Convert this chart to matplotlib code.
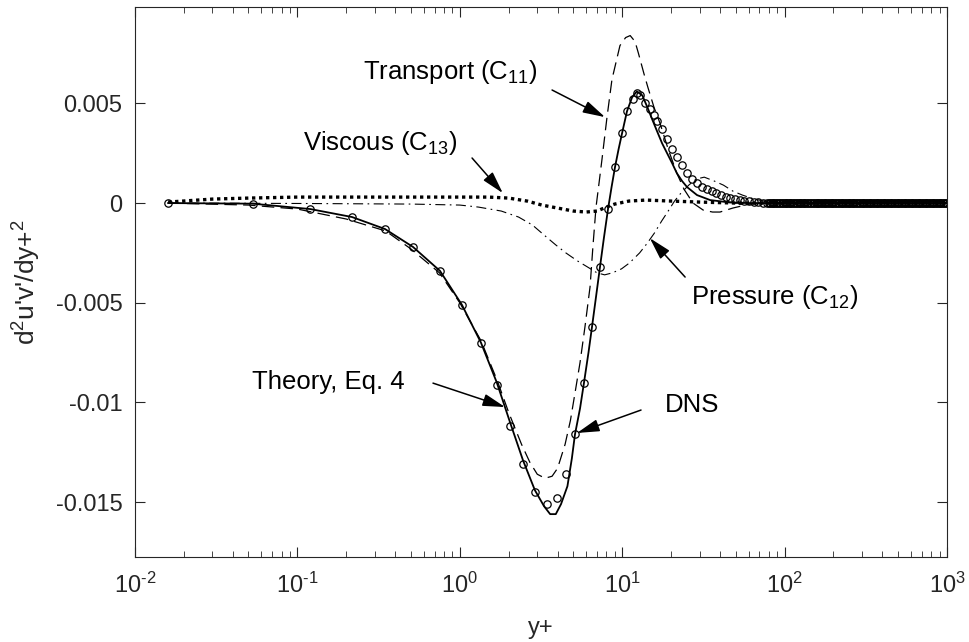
"""
Budget terms for d2u'v'/dy+2 : theory vs DNS
"""

import numpy as np
import matplotlib
matplotlib.use("Agg")
import matplotlib.pyplot as plt

# --- données ---
THEORY_X = [0.016, 0.053, 0.12, 0.217, 0.346, 0.515, 0.755, 1.03, 1.35, 1.69,
            2.04, 2.45, 2.90, 3.3, 3.6, 3.9, 4.2, 4.6, 4.9, 5.12, 5.5, 5.82,
            6.2, 6.52, 6.9, 7.3, 7.7, 8.18, 8.6, 9.03, 9.5, 9.98, 10.7, 11.5,
            12.3, 13.3, 14.3, 15.3, 16.4, 17.6, 18.9, 20.3, 21.7, 23.4, 25.1,
            28.9, 34.8, 46.0, 60.0, 100.0, 1000.0]
THEORY_Y = [0.0, -0.00003, -0.0003, -0.0007, -0.0013, -0.0022, -0.0034, -0.0051,
            -0.0070, -0.0090, -0.0110, -0.0129, -0.0144, -0.0152, -0.0156,
            -0.0156, -0.0151, -0.0142, -0.0128, -0.0116, -0.0103, -0.0090,
            -0.0075, -0.0062, -0.0047, -0.0032, -0.0018, -0.0003, 0.0008,
            0.0018, 0.0027, 0.0035, 0.0046, 0.0053, 0.0056, 0.0054, 0.0048,
            0.0042, 0.0036, 0.0030, 0.0025, 0.0020, 0.0015, 0.0011, 0.0008,
            0.0004, 0.00015, 0.00003, 0.0, 0.0, 0.0]

TRANSPORT_X = [0.016, 0.05, 0.1, 0.2, 0.35, 0.5, 0.75, 1.0, 1.35, 1.7, 2.0,
               2.4, 2.7, 3.0, 3.35, 3.7, 4.0, 4.45, 4.8, 5.2, 5.5, 5.9, 6.34,
               6.6, 6.9, 7.2, 7.51, 8.06, 8.65, 9.69, 10.5, 11.2, 12.0, 12.6,
               13.6, 14.4, 15.7, 17.1, 19.2, 21.7, 24.0, 27.3, 31.5, 36.0, 40.0,
               48.0, 61.0, 80.0, 1000.0]
TRANSPORT_Y = [0.0, -0.0001, -0.0003, -0.0008, -0.0014, -0.0023, -0.0035,
               -0.0050, -0.0069, -0.0089, -0.0105, -0.0121, -0.0130, -0.0136,
               -0.0138, -0.0137, -0.0133, -0.0121, -0.0109, -0.0092, -0.0080,
               -0.0062, -0.0042, -0.0022, -0.0002, 0.0010, 0.0022, 0.0043,
               0.0062, 0.0079, 0.0083, 0.0084, 0.0081, 0.0075, 0.0065, 0.0058,
               0.0048, 0.0040, 0.0027, 0.0015, 0.0007, 0.0, -0.00035, -0.00045,
               -0.00045, -0.00025, -0.00005, 0.0, 0.0]

PRESSURE_X = [0.016, 0.1, 0.5, 1.0, 1.3, 1.8, 2.3, 2.8, 3.3, 3.9, 4.5, 5.3,
              6.1, 7.0, 7.8, 8.7, 9.9, 11.1, 12.8, 14.3, 15.8, 17.5, 19.2,
              21.0, 23.0, 25.7, 28.5, 32.0, 37.0, 42.0, 48.0, 55.0, 65.0, 80.0,
              100.0, 1000.0]
PRESSURE_Y = [0.0, -0.00002, -0.00005, -0.0001, -0.0002, -0.0004, -0.0007,
              -0.0011, -0.0016, -0.0021, -0.0025, -0.0029, -0.0032, -0.0035,
              -0.0036, -0.0035, -0.0033, -0.0030, -0.0025, -0.0020, -0.0015,
              -0.0009, -0.0004, 0.0001, 0.0005, 0.0009, 0.0012, 0.0013, 0.0011,
              0.0009, 0.0006, 0.0004, 0.0002, 0.00005, 0.0, 0.0]

VISCOUS_X = [0.016, 0.03, 0.05, 0.1, 0.5, 1.0, 1.5, 2.0, 2.6, 3.2, 4.0, 5.0,
             6.0, 7.0, 8.0, 9.0, 11.0, 14.0, 20.0, 30.0, 50.0, 1000.0]
VISCOUS_Y = [0.00005, 0.0002, 0.00025, 0.0003, 0.0003, 0.0003, 0.0003,
             0.00025, 0.0001, -0.0001, -0.00025, -0.0004, -0.00045, -0.0004,
             -0.0002, -0.00005, 0.0001, 0.00015, 0.0001, 0.00005, 0.0, 0.0]

DNS_X = [0.016, 0.053, 0.12, 0.217, 0.346, 0.515, 0.755, 1.03, 1.35, 1.69,
         2.04, 2.45, 2.90, 3.44, 3.97, 4.51, 5.12, 5.82, 6.52, 7.30, 8.18,
         9.03, 9.98, 10.7, 11.7, 12.3, 12.9, 13.8, 14.8, 15.6, 16.4, 17.6,
         18.9, 20.3, 21.7, 23.4, 25.1, 26.9, 28.9, 31.0, 33.2, 35.5, 38.0,
         40.6, 43.4, 46.4, 49.6, 53.0, 56.6, 60.5, 64.6, 69.0, 73.7, 78.0]
DNS_Y = [0.0, -0.00003, -0.0003, -0.0007, -0.0013, -0.0022, -0.0034, -0.0051,
         -0.0070, -0.0091, -0.0112, -0.0131, -0.0145, -0.0151, -0.0148,
         -0.0136, -0.0116, -0.0090, -0.0062, -0.0032, -0.0003, 0.0018,
         0.0035, 0.0046, 0.0052, 0.0055, 0.0054, 0.0050, 0.0047, 0.0044,
         0.0041, 0.0037, 0.0032, 0.0027, 0.0023, 0.0019, 0.0015, 0.0012,
         0.0010, 0.0008, 0.0007, 0.0006, 0.0005, 0.0004, 0.0003, 0.00025,
         0.0002, 0.00015, 0.0001, 0.00008, 0.00006, 0.00004, 0.00002, 0.00001]
# points DNS au-delà de y+ ~ 80 (bande serrée) : tous à 0
DNS_X_FAR = [80, 81.6, 83.2, 84.9, 86.6, 88.3, 90, 92, 94, 96, 98, 100, 102,
             104, 106, 108, 110, 112, 114, 117, 119, 122, 124, 127, 129, 132,
             134, 137, 140, 143, 146, 149, 152, 155, 158, 161, 164, 167, 171,
             174, 178, 181, 185, 189, 192, 196, 200, 204, 208, 212, 217, 221,
             225, 230, 235, 239, 244, 249, 254, 259, 264, 269, 275, 280, 286,
             292, 298, 304, 310, 316, 322, 329, 335, 342, 349, 356, 363, 370,
             378, 385, 393, 401, 409, 417, 426, 434, 443, 452, 461, 470, 480,
             489, 499, 509, 519, 530, 540, 551, 562, 574, 585, 597, 609, 621,
             633, 646, 659, 672, 686, 699, 713, 728, 742, 757, 772, 788, 804,
             820, 836, 853, 870, 887, 905, 923, 942, 961, 980, 1000]

YTICKS = [-0.015, -0.01, -0.005, 0, 0.005]
YTICKLABELS = ["-0.015", "-0.01", "-0.005", "0", "0.005"]
XTICKS = [1e-2, 1e-1, 1e0, 1e1, 1e2, 1e3]
XTICKLABELS = ["10$^{\\text{-2}}$", "10$^{\\text{-1}}$", "10$^{0}$",
               "10$^{1}$", "10$^{2}$", "10$^{3}$"]


def main() -> None:
    """main"""
    plt.rcParams.update({
        'font.family': ['Liberation Sans', 'DejaVu Sans'],
        'font.size': 17,
        'mathtext.fontset': 'custom',
        'mathtext.rm': 'Liberation Sans',
        'mathtext.it': 'Liberation Sans',
        'mathtext.default': 'regular',
    })
    dark = '#262626'

    fig = plt.figure(figsize=(9.69, 6.42), dpi=100)
    ax = fig.add_axes([0.1393, 0.1324, 0.8380, 0.8566])

    ax.plot(THEORY_X, THEORY_Y, color='black', lw=1.3)
    ax.plot(TRANSPORT_X, TRANSPORT_Y, color='black', lw=0.9,
            dashes=(10, 5))
    ax.plot(PRESSURE_X, PRESSURE_Y, color='black', lw=0.8,
            dashes=(9, 4, 1.5, 4))
    ax.plot(VISCOUS_X, VISCOUS_Y, color='black', lw=2.4,
            dashes=(1, 1.1), dash_capstyle='butt')

    dns_x = DNS_X + DNS_X_FAR
    dns_y = DNS_Y + list(np.zeros(len(DNS_X_FAR)))
    ax.plot(dns_x, dns_y, ls='none', marker='o', ms=5.3, mfc='none',
            mec='black', mew=0.9)

    ax.set_xscale('log')
    ax.set_xlim(1e-2, 1e3)
    ax.set_ylim(-0.01775, 0.00983)
    ax.set_xticks(XTICKS)
    ax.set_xticklabels(XTICKLABELS)
    ax.set_yticks(YTICKS)
    ax.set_yticklabels(YTICKLABELS)
    ax.tick_params(which='both', direction='in', top=True, right=True,
                   colors=dark, labelsize=17)
    ax.tick_params(which='major', length=7)
    ax.tick_params(axis='y', which='major', pad=9)
    ax.tick_params(axis='x', which='major', pad=11)
    ax.tick_params(which='minor', length=4)
    for sp in ax.spines.values():
        sp.set_color(dark)
        sp.set_linewidth(0.8)

    ax.set_xlabel('y+', color=dark, fontsize=17, labelpad=14)
    ax.set_ylabel("d$^2$u'v'/dy+$^2$", color=dark, fontsize=19, labelpad=9)

    arrow = dict(arrowstyle='-|>,head_length=0.8,head_width=0.22',
                 color='black', lw=1.1, shrinkA=0, shrinkB=0)

    def note(text, txt_xy, tail, tip):
        ax.text(txt_xy[0], txt_xy[1], text, ha='left', va='center',
                fontsize=18.5, color='black')
        ax.annotate('', xy=tip, xytext=tail, arrowprops=arrow)

    note('Transport (C$_{11}$)', (0.254, 0.00657), (3.70, 0.00567),
         (7.84, 0.00431))
    note('Viscous (C$_{13}$)', (0.108, 0.00301), (1.19, 0.00226),
         (1.84, 0.0005))
    note('Pressure (C$_{12}$)', (26.5, -0.00471), (24.4, -0.00371),
         (14.8, -0.00176))
    note('Theory, Eq. 4', (0.0525, -0.00898), (0.684, -0.00903),
         (1.90, -0.01023))
    note('DNS', (18.3, -0.01013), (13.06, -0.01038), (5.27, -0.01153))

    fig.savefig('out.png', dpi=100)


if __name__ == "__main__":
    main()
